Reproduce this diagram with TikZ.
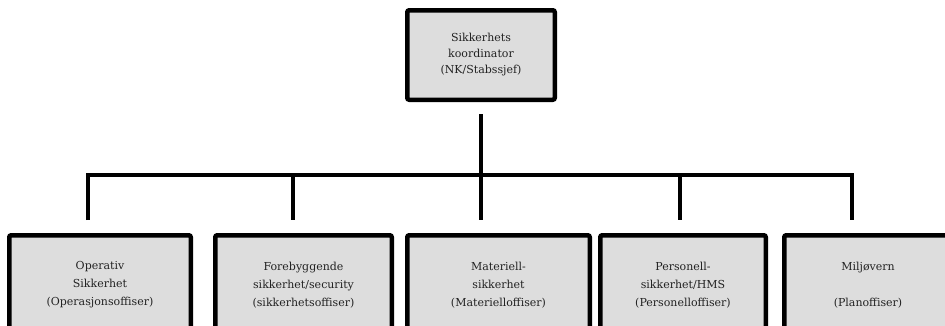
\documentclass[tikz,border=0pt]{standalone}
\usepackage{fontspec}
\setmainfont{DejaVu Serif}
\usetikzlibrary{positioning}
\definecolor{boxfill}{HTML}{DDDDDD}
\definecolor{boxtext}{HTML}{222222}
\tikzset{
  rolebox/.style={draw=black, line width=4.5pt, rounded corners=2pt, fill=boxfill,
               minimum height=99.5pt, align=center, inner sep=2pt,
               font=\fontsize{11}{18}\selectfont, text=boxtext},
  headbox/.style={rolebox, minimum width=147.5pt, minimum height=89.5pt,
               font=\fontsize{11}{16}\selectfont},
  link/.style={draw=black, line width=3.2pt},
}

\begin{document}
\begin{tikzpicture}[x=1pt, y=-1pt]
  \useasboundingbox (0,0) rectangle (945,325);

  \node[headbox] (koord) at (481,55) {Sikkerhets\\ koordinator\\ (NK/Stabssjef)};

  \node[rolebox, minimum width=181.5pt] (ops) at (100,285) {Operativ\\ Sikkerhet\\ (Operasjonsoffiser)};
  \node[rolebox, minimum width=176.5pt, right=20pt of ops] (fore) {Forebyggende\\ sikkerhet/security\\ (sikkerhetsoffiser)};
  \node[rolebox, minimum width=182.5pt, right=11pt of fore] (mat) {Materiell-\\ sikkerhet\\ (Materielloffiser)};
  \node[rolebox, minimum width=165.5pt, right=6pt of mat] (pers) {Personell-\\ sikkerhet/HMS\\ (Personelloffiser)};
  \node[rolebox, minimum width=167.5pt, right=14pt of pers] (mil) {Miljøvern\\ \\ (Planoffiser)};

  \draw[link] ([yshift=-12pt]koord.south) -- ([yshift=13pt]koord.south |- mat.north);
  \draw[link] ([xshift=-12pt,yshift=13pt]ops.north) |- ([xshift=-16pt,yshift=58pt]mil.north)
    -- ([xshift=-16pt,yshift=13pt]mil.north);
  \foreach \n/\dx in {fore/-10.5, pers/-3}
    \draw[link] ([xshift=\dx pt,yshift=58pt]\n.north) -- ([xshift=\dx pt,yshift=13pt]\n.north);

\end{tikzpicture}
\end{document}
